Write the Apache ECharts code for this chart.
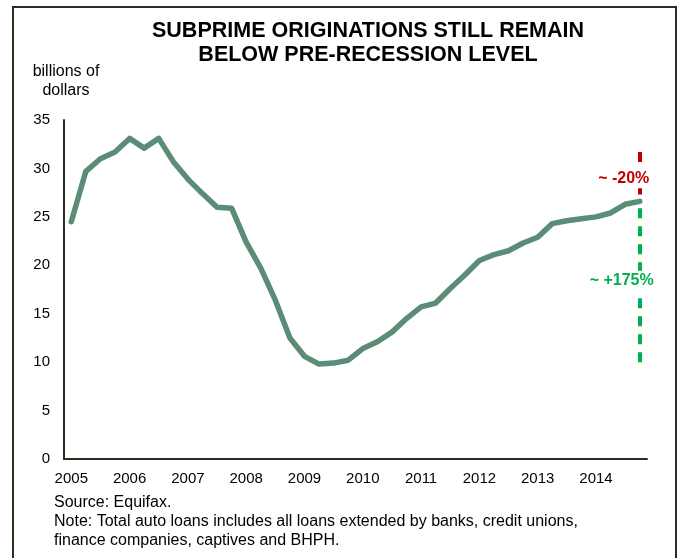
<!DOCTYPE html>
<html>
<head>
<meta charset="utf-8">
<script src="https://cdn.jsdelivr.net/npm/echarts@6/dist/echarts.min.js"></script>
<style>
  html, body { margin: 0; padding: 0; background: #fff; }
  #chart { width: 678px; height: 558px; }
</style>
</head>
<body>
<div id="chart"></div>
<script>
// Quarterly subprime auto-loan originations, 2005 Q1 – 2014 Q4 (billions of dollars)
const years = ['2005', '2006', '2007', '2008', '2009', '2010', '2011', '2012', '2013', '2014'];
const quarters = [];
years.forEach(y => { for (let q = 1; q <= 4; q++) quarters.push(y + ' Q' + q); });

const originations = [
  24.5, 29.7, 31.0, 31.7, 33.1, 32.1, 33.1, 30.7, 28.9, 27.4,
  26.0, 25.9, 22.4, 19.7, 16.4, 12.5, 10.6, 9.8, 9.9, 10.2,
  11.4, 12.1, 13.1, 14.5, 15.7, 16.1, 17.6, 19.0, 20.5, 21.1,
  21.5, 22.3, 22.9, 24.3, 24.6, 24.8, 25.0, 25.4, 26.3, 26.6
];

// Annotation spans drawn at the latest quarter
const declineSpan = [31.7, 27.3];   // below the 2006 peak
const recoverySpan = [25.9, 9.9];   // above the 2009 trough
const declineLabel = '~ -20%';
const recoveryLabel = '~ +175%';

const FONT = '"Liberation Sans", Arial, sans-serif';
const lastCat = quarters[quarters.length - 1];

const chart = echarts.init(document.getElementById('chart'), null, { renderer: 'canvas' });

chart.setOption({
  backgroundColor: '#ffffff',
  animation: false,
  title: {
    text: 'SUBPRIME ORIGINATIONS STILL REMAIN\nBELOW PRE-RECESSION LEVEL',
    left: 363,
    top: 14,
    textAlign: 'center',
    textStyle: {
      fontFamily: FONT,
      fontWeight: 'bold',
      fontSize: 21.5,
      lineHeight: 24,
      color: '#000'
    }
  },
  grid: { left: 64, right: 31, top: 120, bottom: 99 },
  xAxis: {
    type: 'category',
    data: quarters,
    boundaryGap: true,
    axisLine: { lineStyle: { color: '#2b2f1f', width: 2 } },
    axisTick: { show: false },
    axisLabel: {
      interval: 3,
      margin: 12,
      fontFamily: FONT,
      fontSize: 15,
      color: '#000',
      formatter: v => v.slice(0, 4)
    },
    splitLine: { show: false }
  },
  yAxis: {
    type: 'value',
    min: 0,
    max: 35,
    interval: 5,
    axisLine: { show: true, lineStyle: { color: '#2b2f1f', width: 2 } },
    axisTick: { show: false },
    axisLabel: { margin: 14, fontFamily: FONT, fontSize: 15, color: '#000' },
    splitLine: { show: false }
  },
  series: [{
    type: 'line',
    data: originations,
    symbol: 'none',
    lineStyle: { color: '#5b8c76', width: 5.5, cap: 'round', join: 'round' },
    markLine: {
      silent: true,
      symbol: 'none',
      label: { show: false },
      data: [
        [
          { coord: [lastCat, declineSpan[0]], lineStyle: { color: '#c00000', width: 4, type: [10, 8] } },
          { coord: [lastCat, declineSpan[1]] }
        ],
        [
          { coord: [lastCat, recoverySpan[0]], lineStyle: { color: '#00b050', width: 4, type: [10, 8] } },
          { coord: [lastCat, recoverySpan[1]] }
        ]
      ]
    }
  }],
  graphic: [
    {
      id: 'frame',
      type: 'rect',
      shape: { x: 13, y: 7, width: 663, height: 600 },
      style: { fill: 'none', stroke: '#26301c', lineWidth: 2 },
      silent: true,
      z: 0
    },
    {
      id: 'unit',
      type: 'text',
      x: 66,
      y: 62,
      style: {
        text: 'billions of\ndollars',
        font: '16px ' + FONT,
        lineHeight: 19,
        align: 'center',
        fill: '#000'
      }
    },
    {
      id: 'footer',
      type: 'text',
      x: 54,
      y: 493,
      style: {
        text: 'Source: Equifax.\nNote: Total auto loans includes all loans extended by banks, credit unions,\nfinance companies, captives and BHPH.',
        font: '16px ' + FONT,
        lineHeight: 19,
        fill: '#000'
      }
    }
  ]
});

// Percentage labels beside the dashed spans, positioned through the chart's own scales
function spanLabel(id, text, span, color, dx, dy) {
  const mid = (span[0] + span[1]) / 2;
  const p = chart.convertToPixel({ seriesIndex: 0 }, [lastCat, mid]);
  return {
    id: id,
    type: 'text',
    x: p[0] + dx,
    y: p[1] + dy,
    z: 100,
    style: {
      text: text,
      font: 'bold 16px ' + FONT,
      fill: color,
      align: 'center',
      verticalAlign: 'middle',
      backgroundColor: '#fff',
      padding: [2, 1]
    }
  };
}

chart.setOption({
  graphic: [
    spanLabel('declineText', declineLabel, declineSpan, '#c00000', -16, 5),
    spanLabel('recoveryText', recoveryLabel, recoverySpan, '#00b050', -18, -5)
  ]
});
</script>
</body>
</html>
